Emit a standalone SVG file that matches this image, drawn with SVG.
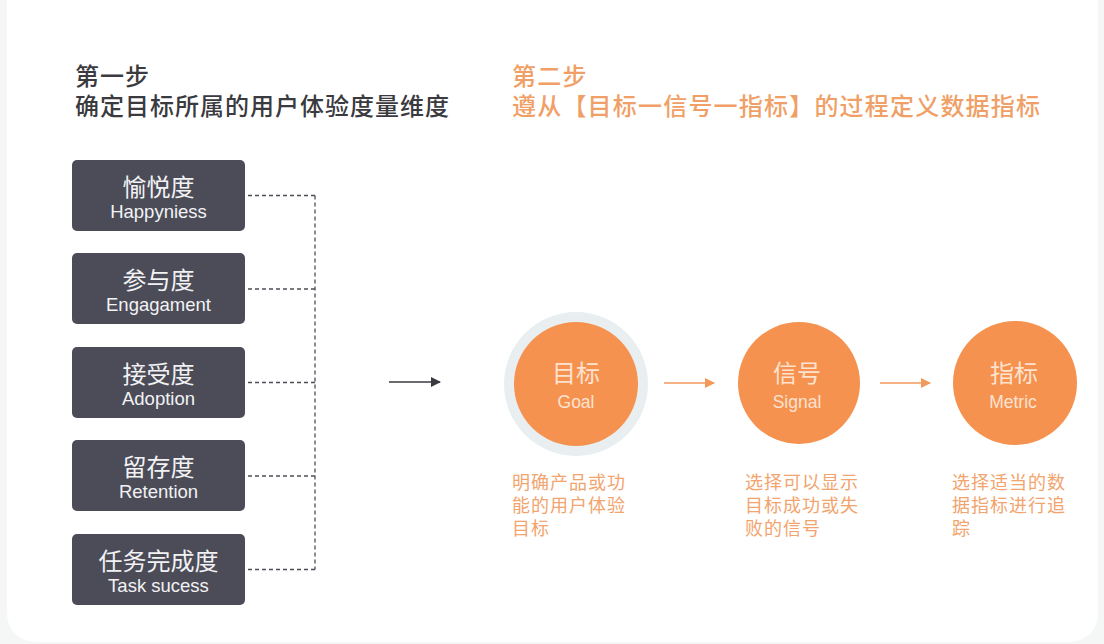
<svg xmlns="http://www.w3.org/2000/svg" width="1104" height="644" viewBox="0 0 1104 644">
  <defs>
    <style>
      .cjk { font-family: "Noto Sans CJK SC", "Liberation Sans", sans-serif; }
      .lat { font-family: "Liberation Sans", "Noto Sans", sans-serif; }
      .t1 { font-size: 24px; letter-spacing: 1px; fill: #3a3a3f; font-weight: 500; }
      .t2 { font-size: 24px; letter-spacing: 1.2px; fill: #f0a066; font-weight: 500; }
      .box { fill: #4b4c58; }
      .bzh { font-size: 24px; fill: #f2f2f4; text-anchor: middle; }
      .ben { font-size: 18.5px; fill: #f2f2f4; text-anchor: middle; }
      .circ { fill: #f5924f; }
      .czh { font-size: 24px; fill: #fde3cf; text-anchor: middle; }
      .cen { font-size: 17.5px; fill: #fde3cf; text-anchor: middle; }
      .desc { font-size: 18px; letter-spacing: 1px; fill: #f2a46e; }
      .dash { stroke: #4d4d55; stroke-width: 1.3; stroke-dasharray: 4 3; fill: none; }
    </style>
    <marker id="ahDark" viewBox="0 0 10 10" refX="9" refY="5" markerWidth="10" markerHeight="10" markerUnits="userSpaceOnUse" orient="auto">
      <path d="M0,0 L10,5 L0,10 z" fill="#3a3a40"/>
    </marker>
    <marker id="ahOrange" viewBox="0 0 10 10" refX="9" refY="5" markerWidth="10" markerHeight="10" markerUnits="userSpaceOnUse" orient="auto">
      <path d="M0,0 L10,5 L0,10 z" fill="#f29a5c"/>
    </marker>
  </defs>

  <rect x="0" y="0" width="1104" height="644" fill="#f5f6f6"/>
  <rect x="7" y="-30" width="1091" height="672" rx="28" fill="#ffffff"/>

  <g id="title-step1">
    <text class="cjk t1" x="75" y="85">第一步</text>
    <text class="cjk t1" x="75" y="115">确定目标所属的用户体验度量维度</text>
  </g>
  <g id="title-step2">
    <text class="cjk t2" x="512" y="85">第二步</text>
    <text class="cjk t2" x="512" y="115">遵从【目标一信号一指标】的过程定义数据指标</text>
  </g>

  <g id="connectors">
    <path class="dash" d="M248,195.5 H315 M248,289 H315 M248,382.5 H315 M248,476 H315 M248,569.5 H315 M315,195.5 V569.5"/>
    <line x1="389" y1="382" x2="440" y2="382" stroke="#3a3a40" stroke-width="1.6" marker-end="url(#ahDark)"/>
    <line x1="664" y1="383" x2="714" y2="383" stroke="#f29a5c" stroke-width="1.6" marker-end="url(#ahOrange)"/>
    <line x1="880" y1="383" x2="930" y2="383" stroke="#f29a5c" stroke-width="1.6" marker-end="url(#ahOrange)"/>
  </g>

  <g id="node-happiness">
    <rect class="box" x="72" y="160" width="173" height="71" rx="5"/>
    <text class="cjk bzh" x="158.5" y="196">愉悦度</text>
    <text class="lat ben" x="158.5" y="218">Happyniess</text>
  </g>
  <g id="node-engagement">
    <rect class="box" x="72" y="253" width="173" height="71" rx="5"/>
    <text class="cjk bzh" x="158.5" y="289">参与度</text>
    <text class="lat ben" x="158.5" y="311">Engagament</text>
  </g>
  <g id="node-adoption">
    <rect class="box" x="72" y="347" width="173" height="71" rx="5"/>
    <text class="cjk bzh" x="158.5" y="383">接受度</text>
    <text class="lat ben" x="158.5" y="405">Adoption</text>
  </g>
  <g id="node-retention">
    <rect class="box" x="72" y="440" width="173" height="71" rx="5"/>
    <text class="cjk bzh" x="158.5" y="476">留存度</text>
    <text class="lat ben" x="158.5" y="498">Retention</text>
  </g>
  <g id="node-task">
    <rect class="box" x="72" y="534" width="173" height="71" rx="5"/>
    <text class="cjk bzh" x="158.5" y="570">任务完成度</text>
    <text class="lat ben" x="158.5" y="592">Task sucess</text>
  </g>

  <g id="node-goal">
    <circle cx="576" cy="384" r="72" fill="#e9eef0"/>
    <circle class="circ" cx="576" cy="384" r="62"/>
    <text class="cjk czh" x="576" y="382">目标</text>
    <text class="lat cen" x="576" y="408">Goal</text>
    <text class="cjk desc" x="512" y="489">明确产品或功</text>
    <text class="cjk desc" x="512" y="512">能的用户体验</text>
    <text class="cjk desc" x="512" y="535">目标</text>
  </g>
  <g id="node-signal">
    <circle class="circ" cx="799" cy="383" r="61"/>
    <text class="cjk czh" x="797" y="382">信号</text>
    <text class="lat cen" x="797" y="408">Signal</text>
    <text class="cjk desc" x="745" y="489">选择可以显示</text>
    <text class="cjk desc" x="745" y="512">目标成功或失</text>
    <text class="cjk desc" x="745" y="535">败的信号</text>
  </g>
  <g id="node-metric">
    <circle class="circ" cx="1015" cy="383" r="62"/>
    <text class="cjk czh" x="1014" y="382">指标</text>
    <text class="lat cen" x="1013" y="408">Metric</text>
    <text class="cjk desc" x="952" y="489">选择适当的数</text>
    <text class="cjk desc" x="952" y="512">据指标进行追</text>
    <text class="cjk desc" x="952" y="535">踪</text>
  </g>
</svg>
